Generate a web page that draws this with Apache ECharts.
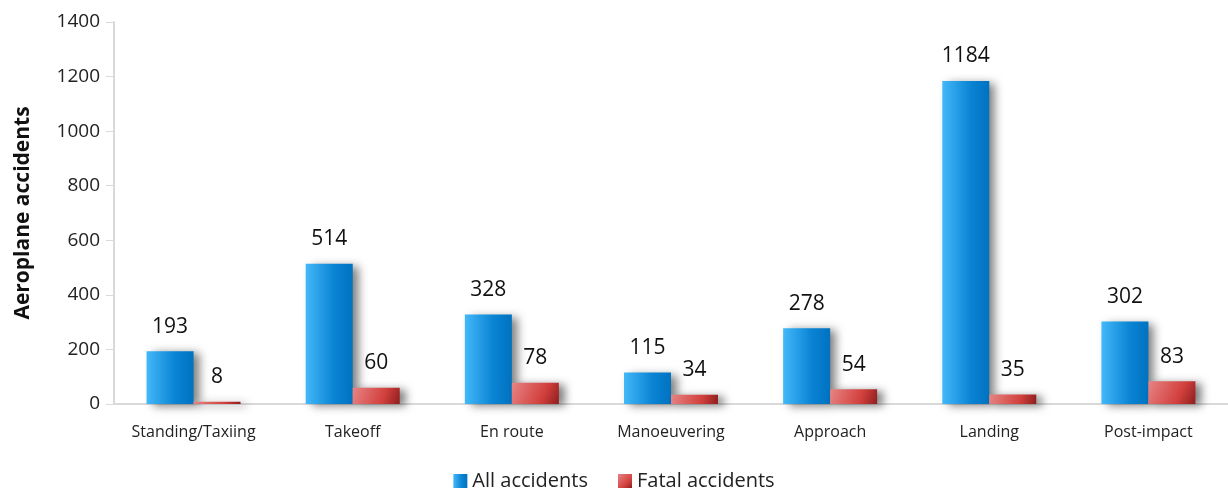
<!DOCTYPE html>
<html>
<head>
<meta charset="utf-8">
<script src="https://cdn.jsdelivr.net/npm/echarts@6/dist/echarts.min.js"></script>
<style>
  html, body { margin: 0; padding: 0; background: #fff; }
  #main { width: 1228px; height: 496px; }
</style>
</head>
<body>
<div id="main"></div>
<script>
var categories = ['Standing/Taxiing', 'Takeoff', 'En route', 'Manoeuvering', 'Approach', 'Landing', 'Post-impact'];
var allAccidents = [193, 514, 328, 115, 278, 1184, 302];
var fatalAccidents = [8, 60, 78, 34, 54, 35, 83];

var font = '"Open Sans", "Noto Sans", sans-serif';
var myChart = echarts.init(document.getElementById('main'));

// light on the left, darker to the right
var blueFill = new echarts.graphic.LinearGradient(0, 0, 1, 0, [
  { offset: 0, color: '#43b8f9' },
  { offset: 0.6, color: '#0a84d4' },
  { offset: 1, color: '#0072c0' }
]);
var redFill = new echarts.graphic.LinearGradient(0, 0, 1, 1, [
  { offset: 0, color: '#e68484' },
  { offset: 0.65, color: '#d2403d' },
  { offset: 1, color: '#8e1e1e' }
]);

var valueLabel = {
  show: true,
  position: 'top',
  distance: 14,
  fontSize: 21,
  color: '#111',
  fontFamily: font
};

var option = {
  backgroundColor: '#fff',
  animation: false,
  textStyle: { fontFamily: font },
  grid: { left: 114, right: -6, top: 22, bottom: 92, containLabel: false },
  legend: {
    bottom: 0,
    left: 'center',
    itemWidth: 14,
    itemHeight: 14,
    itemGap: 30,
    icon: 'rect',
    textStyle: { fontSize: 20, color: '#222', fontFamily: font },
    data: ['All accidents', 'Fatal accidents']
  },
  xAxis: {
    type: 'category',
    data: categories,
    axisLine: { lineStyle: { color: '#d9d9d9', width: 2 } },
    axisTick: { show: false },
    axisLabel: { fontSize: 16, color: '#222', margin: 20, interval: 0, fontFamily: font }
  },
  yAxis: {
    type: 'value',
    min: 0,
    max: 1400,
    interval: 200,
    name: 'Aeroplane accidents',
    nameLocation: 'middle',
    nameGap: 80,
    nameTextStyle: { fontSize: 21, fontWeight: 'bold', color: '#111', fontFamily: font },
    splitLine: { show: false },
    axisLine: { show: true, lineStyle: { color: '#d9d9d9', width: 2 } },
    axisTick: { show: true, length: 8, lineStyle: { color: '#d9d9d9', width: 1 } },
    axisLabel: {
      fontSize: 19,
      color: '#222',
      margin: 14,
      fontFamily: font,
      formatter: function (v) { return String(v); }
    }
  },
  series: [
    {
      name: 'All accidents',
      type: 'bar',
      data: allAccidents,
      barWidth: 47,
      barGap: '0%',
      itemStyle: {
        color: blueFill,
        shadowColor: 'rgba(0,0,0,0.5)',
        shadowBlur: 9,
        shadowOffsetX: 6,
        shadowOffsetY: 2
      },
      label: valueLabel
    },
    {
      name: 'Fatal accidents',
      type: 'bar',
      data: fatalAccidents,
      barWidth: 47,
      barGap: '0%',
      itemStyle: {
        color: redFill,
        shadowColor: 'rgba(0,0,0,0.5)',
        shadowBlur: 9,
        shadowOffsetX: 6,
        shadowOffsetY: 2
      },
      label: valueLabel
    }
  ]
};

myChart.setOption(option);
</script>
</body>
</html>
